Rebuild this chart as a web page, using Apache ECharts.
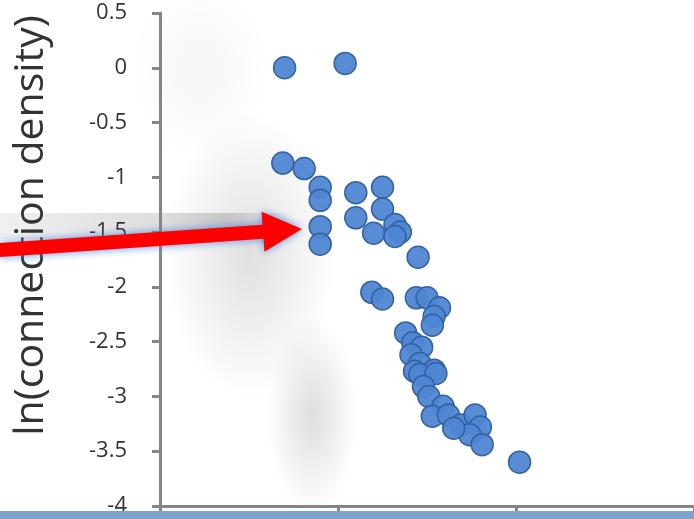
<!DOCTYPE html>
<html>
<head>
<meta charset="utf-8">
<script src="https://cdn.jsdelivr.net/npm/echarts@6/dist/echarts.min.js"></script>
<style>
  html, body { margin: 0; padding: 0; background: #fff; }
  #chart { width: 694px; height: 519px; }
</style>
</head>
<body>
<div id="chart"></div>
<script>
// x positions are read against an unlabeled axis (ticks every 1 unit)
const xValues = [
  0.70, 1.04, 0.69, 0.81, 0.90, 0.90, 0.90, 0.90, 1.10, 1.25,
  1.10, 1.25, 1.20, 1.32, 1.35, 1.32, 1.45, 1.19, 1.25, 1.44,
  1.50, 1.57, 1.54, 1.53, 1.38, 1.42, 1.47, 1.41, 1.46, 1.54,
  1.43, 1.46, 1.55, 1.48, 1.51, 1.59, 1.53, 1.62, 1.69, 1.77,
  1.80, 1.74, 1.81, 1.65, 2.02
];
const yValues = [
  0.00, 0.04, -0.87, -0.92, -1.09, -1.21, -1.45, -1.61, -1.14, -1.09,
  -1.37, -1.29, -1.51, -1.43, -1.50, -1.54, -1.73, -2.05, -2.11, -2.10,
  -2.10, -2.19, -2.27, -2.35, -2.42, -2.51, -2.55, -2.62, -2.70, -2.76,
  -2.77, -2.80, -2.79, -2.91, -3.00, -3.09, -3.18, -3.17, -3.26, -3.17,
  -3.28, -3.35, -3.44, -3.29, -3.60
];
const yAxisTitle = 'ln(connection density)';

const points = xValues.map((x, i) => [x, yValues[i]]);

const chart = echarts.init(document.getElementById('chart'));

const axisGray = '#858585';

// soft blob used for the blurry shadows of the projected slide
const haze = (a) => ({
  type: 'radial', x: 0.5, y: 0.5, r: 0.5,
  colorStops: [
    { offset: 0, color: 'rgba(0,0,0,' + a + ')' },
    { offset: 1, color: 'rgba(0,0,0,0)' }
  ]
});

chart.setOption({
  backgroundColor: '#ffffff',
  animation: false,
  grid: { left: 160, right: 0, top: 13, bottom: 13 },
  xAxis: {
    type: 'value',
    min: 0,
    max: 3,
    interval: 1,
    axisLine: { onZero: false, lineStyle: { color: axisGray, width: 3 } },
    axisTick: { show: true, length: 7, lineStyle: { color: axisGray, width: 3 } },
    axisLabel: { show: false },
    splitLine: { show: false }
  },
  yAxis: {
    type: 'value',
    min: -4,
    max: 0.5,
    interval: 0.5,
    name: yAxisTitle,
    nameLocation: 'middle',
    nameGap: 108,
    nameTextStyle: {
      fontFamily: 'Open Sans',
      fontSize: 41,
      color: '#333',
      padding: [0, 0, 0, 68]
    },
    axisLine: { show: true, lineStyle: { color: axisGray, width: 3 } },
    axisTick: { show: true, length: 8, lineStyle: { color: axisGray, width: 3 } },
    axisLabel: {
      margin: 33,
      fontFamily: 'Open Sans',
      fontSize: 22,
      color: '#333'
    },
    splitLine: { show: false }
  },
  graphic: [
    { type: 'circle', z: -10, silent: true,
      x: 250, y: 255, scaleX: 1, scaleY: 1.7,
      shape: { cx: 0, cy: 0, r: 85 },
      style: { fill: haze(0.12) } },
    { type: 'circle', z: -10, silent: true,
      x: 312, y: 415, scaleX: 1, scaleY: 2.2,
      shape: { cx: 0, cy: 0, r: 45 },
      style: { fill: haze(0.13) } },
    { type: 'circle', z: -10, silent: true,
      x: 200, y: 70, scaleX: 1, scaleY: 1.3,
      shape: { cx: 0, cy: 0, r: 70 },
      style: { fill: haze(0.04) } },
    { type: 'rect', z: -9, silent: true,
      shape: { x: 0, y: 213, width: 300, height: 26 },
      style: { fill: {
        type: 'linear', x: 0, y: 0, x2: 1, y2: 0,
        colorStops: [
          { offset: 0, color: 'rgba(0,0,0,0.06)' },
          { offset: 0.75, color: 'rgba(0,0,0,0.16)' },
          { offset: 1, color: 'rgba(0,0,0,0)' }
        ]
      } } },
    // blue strip at bottom
    { type: 'rect', z: 50, silent: true,
      shape: { x: 0, y: 511, width: 694, height: 8 },
      style: { fill: '#7fa2cc' } },
    // red arrow
    { type: 'polygon', z: 100, silent: true,
      shape: { points: [[0, 243], [262.5, 224.7], [261.6, 211.7], [302, 229], [264.4, 251.7], [263.5, 238.7], [0, 257]] },
      style: { fill: '#ff0000', shadowBlur: 8, shadowColor: 'rgba(70,130,220,0.9)' } }
  ],
  series: [{
    type: 'scatter',
    data: points,
    symbolSize: 22,
    itemStyle: {
      color: '#4f86d3',
      borderColor: '#2f5e9e',
      borderWidth: 1.5,
      opacity: 0.95
    }
  }]
});
</script>
</body>
</html>
